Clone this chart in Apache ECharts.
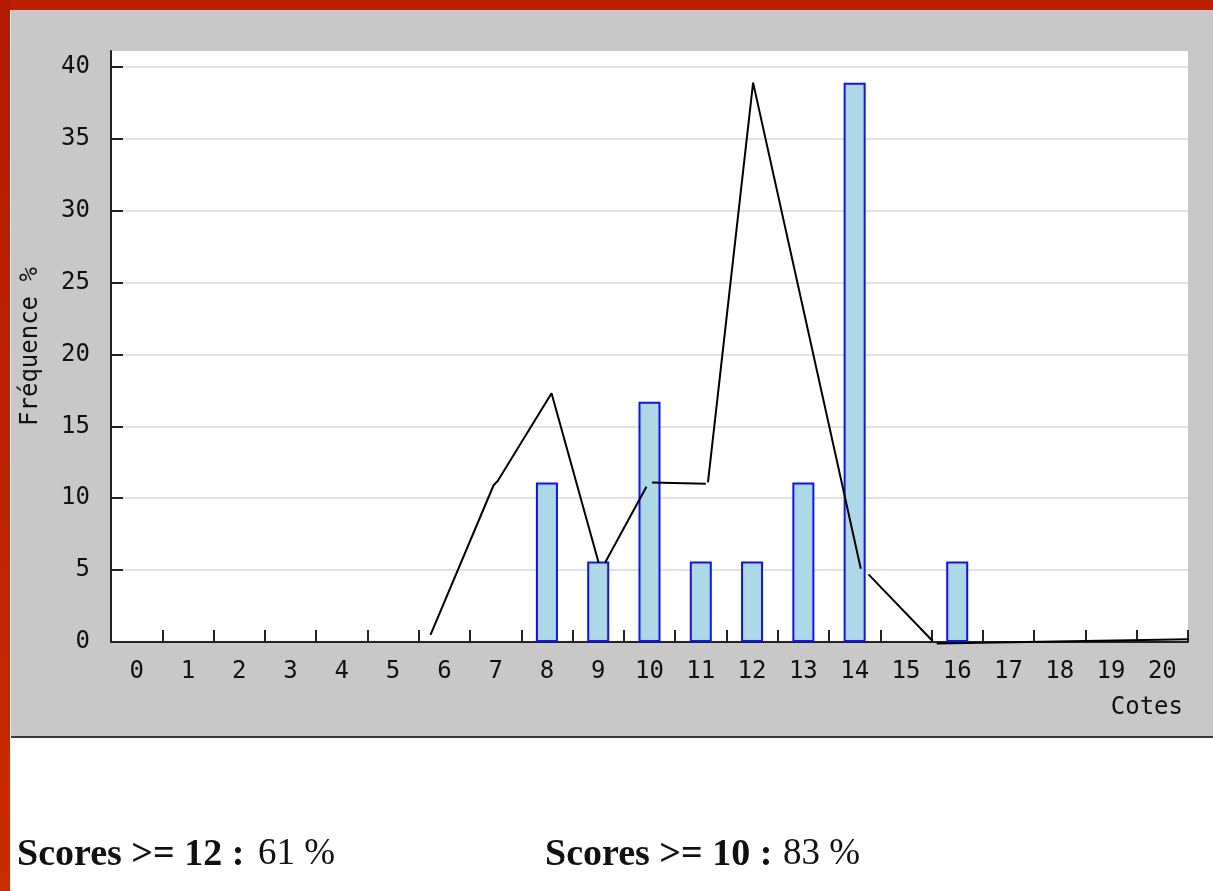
<!DOCTYPE html>
<html>
<head>
<meta charset="utf-8">
<script src="https://cdn.jsdelivr.net/npm/echarts@6/dist/echarts.min.js"></script>
<style>
  html, body { margin: 0; padding: 0; background: #fff; }
  #chart { width: 1213px; height: 891px; }
</style>
</head>
<body>
<div id="chart"></div>
<script>
// categories (cotes) and frequencies in %
var cotes = ['0','1','2','3','4','5','6','7','8','9','10','11','12','13','14','15','16','17','18','19','20'];
var frequences = [null,null,null,null,null,null,null,null,11.1,5.6,16.7,5.6,5.6,11.1,38.9,null,5.6,null,null,null,null];
var yTicks = [0, 5, 10, 15, 20, 25, 30, 35, 40];

// hand drawn polyline (x in cote units, y in %)
var traitA = [[5.73, 0.5], [6.96, 10.9], [7.04, 11.2], [8.09, 17.3], [9.01, 5.5]];
var traitB = [[9.13, 5.5], [9.94, 10.8]];
var traitC = [[10.05, 11.1], [11.1, 11.0]];
var traitD = [[11.14, 11.1], [12.02, 38.9], [14.12, 5.1]];
var traitE = [[14.27, 4.7], [15.52, 0.07]];
var traitF = [[15.6, -0.1], [20.59, 0.2]];
var traits = [traitA, traitB, traitC, traitD, traitE, traitF];

var scores = [
  { label: 'Scores >= 12 :', value: '61 %' },
  { label: 'Scores >= 10 :', value: '83 %' }
];

var chart = echarts.init(document.getElementById('chart'));

var lineSeries = traits.map(function (pts) {
  return {
    type: 'line',
    xAxisIndex: 1,
    data: pts,
    symbol: 'none',
    clip: false,
    silent: true,
    z: 5,
    lineStyle: { color: '#000', width: 2 }
  };
});

var font = 'DejaVu Sans Mono';

var option = {
  backgroundColor: '#fff',
  animation: false,
  graphic: [
    { type: 'rect', left: 0, top: 0, shape: { width: 1213, height: 10 }, style: { fill: '#bb1e00' }, z: -10 },
    { type: 'rect', left: 0, top: 0, shape: { width: 10, height: 891 },
      style: { fill: new echarts.graphic.LinearGradient(0, 0, 0, 1, [
        { offset: 0, color: '#b31a00' }, { offset: 1, color: '#c82c00' }]) }, z: -10 },
    { type: 'rect', left: 11, top: 10, shape: { width: 1202, height: 727 }, style: { fill: '#c8c8c8' }, z: -10 },
    { type: 'rect', left: 11, top: 736, shape: { width: 1202, height: 2 }, style: { fill: '#3a3a3a' }, z: -9 },
    { type: 'text', right: 30, top: 696, style: { text: 'Cotes', font: '24px "' + font + '"', fill: '#111' } },
    { type: 'text', left: 17, top: 836, style: { text: scores[0].label, font: 'bold 38px "Liberation Serif"', fill: '#111' } },
    { type: 'text', left: 258, top: 836, style: { text: scores[0].value, font: '37px "Liberation Serif"', fill: '#111' } },
    { type: 'text', left: 545, top: 836, style: { text: scores[1].label, font: 'bold 38px "Liberation Serif"', fill: '#111' } },
    { type: 'text', left: 783, top: 836, style: { text: scores[1].value, font: '37px "Liberation Serif"', fill: '#111' } }
  ],
  grid: {
    left: 111, top: 51, right: 25, bottom: 249,
    show: true, backgroundColor: '#fff', borderWidth: 0
  },
  xAxis: [{
    type: 'category',
    data: cotes,
    boundaryGap: true,
    axisLine: { show: true, lineStyle: { color: '#222', width: 2 } },
    axisTick: { show: true, inside: true, length: 12, interval: 0, lineStyle: { color: '#222', width: 2 } },
    axisLabel: { color: '#111', fontFamily: font, fontSize: 24, margin: 18, interval: 0 },
    splitLine: { show: false }
  }, {
    type: 'value',
    min: -0.5,
    max: 20.5,
    show: false
  }],
  yAxis: {
    type: 'value',
    min: 0,
    max: 41.1,
    interval: 5,
    name: 'Fréquence %',
    nameLocation: 'middle',
    nameGap: 68,
    nameRotate: 90,
    nameTextStyle: { color: '#111', fontFamily: font, fontSize: 24 },
    axisLine: { show: true, onZero: false, lineStyle: { color: '#222', width: 2 } },
    axisTick: { show: true, inside: true, length: 12, customValues: yTicks, lineStyle: { color: '#222', width: 2 } },
    axisLabel: { color: '#111', fontFamily: font, fontSize: 24, margin: 21, customValues: yTicks },
    splitLine: { lineStyle: { color: '#e2e2e2', width: 2 } }
  },
  series: [{
    type: 'bar',
    data: frequences.map(function (v) { return v === null ? '-' : v; }),
    barWidth: 22,
    z: 3,
    itemStyle: { color: '#add8e6', borderColor: '#1010ff', borderWidth: 2 }
  }].concat(lineSeries)
};

chart.setOption(option);
</script>
</body>
</html>
